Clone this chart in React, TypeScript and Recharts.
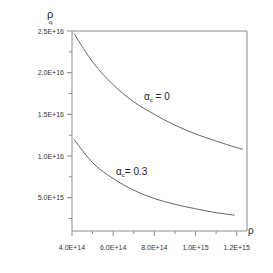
import React from 'react';
import { LineChart, Line, XAxis, YAxis, ReferenceLine } from 'recharts';

const rhoA0 = [4.1e14, 5e14, 6e14, 7e14, 8e14, 9e14, 1.0e15, 1.1e15, 1.2e15, 1.23e15];
const rhoqA0 = [2.47e16, 2.13e16, 1.855e16, 1.65e16, 1.5e16, 1.37e16, 1.265e16, 1.18e16, 1.1e16, 1.08e16];

const rhoA3 = [4.1e14, 5e14, 6e14, 7e14, 8e14, 9e14, 1.0e15, 1.1e15, 1.19e15];
const rhoqA3 = [1.2e16, 9.2e15, 7.3e15, 5.9e15, 4.9e15, 4.2e15, 3.67e15, 3.2e15, 2.9e15];

const xTicks = [4e14, 5e14, 6e14, 7e14, 8e14, 9e14, 1.0e15, 1.1e15, 1.2e15];
const xMajorLabels: Record<string, string> = {
  '400000000000000': '4.0E+14',
  '600000000000000': '6.0E+14',
  '800000000000000': '8.0E+14',
  '1000000000000000': '1.0E+15',
  '1200000000000000': '1.2E+15',
};
const yTicks = [2.5e15, 5e15, 7.5e15, 1e16, 1.25e16, 1.5e16, 1.75e16, 2e16, 2.25e16, 2.5e16];
const yMajorLabels: Record<string, string> = {
  '5000000000000000': '5.0E+15',
  '10000000000000000': '1.0E+16',
  '15000000000000000': '1.5E+16',
  '20000000000000000': '2.0E+16',
  '25000000000000000': '2.5E+16',
};

const dataA0 = rhoA0.map((x, i) => ({ x, y: rhoqA0[i] }));
const dataA3 = rhoA3.map((x, i) => ({ x, y: rhoqA3[i] }));

const FONT = 'Liberation Sans, Arial, sans-serif';
const AXIS = '#8a8a8a';

const XTick = (props: any) => {
  const { x, y, payload } = props;
  const key = String(Math.round(payload.value));
  const label = xMajorLabels[key];
  const major = !!label;
  return (
    <g>
      <line x1={x} x2={x} y1={y} y2={y + (major ? 5 : 3)} stroke={AXIS} strokeWidth={1} />
      {major && (
        <text x={x} y={y + 19} textAnchor="middle" fontSize={7} fontFamily={FONT} fill="#333">
          {label}
        </text>
      )}
    </g>
  );
};

const YTick = (props: any) => {
  const { x, y, payload } = props;
  const key = String(Math.round(payload.value));
  const label = yMajorLabels[key];
  const major = !!label;
  return (
    <g>
      <line x1={x} x2={x - (major ? 5 : 3)} y1={y} y2={y} stroke={AXIS} strokeWidth={1} />
      {major && (
        <text x={x - 8} y={y + 2.5} textAnchor="end" fontSize={7} fontFamily={FONT} fill="#333">
          {label}
        </text>
      )}
    </g>
  );
};

export default function App() {
  return (
    <div style={{ position: 'absolute', left: 0, top: 0, width: 273, height: 273, background: '#fff' }}>
      <LineChart
        width={273}
        height={273}
        margin={{ top: 31, right: 26, bottom: 0, left: 0 }}
      >
        <XAxis
          type="number"
          dataKey="x"
          domain={[4e14, 1.25e15]}
          ticks={xTicks}
          interval={0}
          tick={<XTick />}
          tickLine={false}
          tickSize={0}
          tickMargin={0}
          axisLine={{ stroke: AXIS }}
          height={42}
          allowDataOverflow
        />
        <YAxis
          type="number"
          dataKey="y"
          domain={[1e15, 2.5e16]}
          ticks={yTicks}
          interval={0}
          tick={<YTick />}
          tickLine={false}
          tickSize={0}
          tickMargin={0}
          axisLine={{ stroke: AXIS }}
          width={72}
          allowDataOverflow
        />
        <ReferenceLine y={2.5e16} stroke={AXIS} ifOverflow="visible" />
        <ReferenceLine x={1.25e15} stroke={AXIS} ifOverflow="visible" />
        <Line data={dataA0} dataKey="y" type="monotone" stroke="#666" strokeWidth={1} dot={false} isAnimationActive={false} />
        <Line data={dataA3} dataKey="y" type="monotone" stroke="#666" strokeWidth={1} dot={false} isAnimationActive={false} />
        <text x={47} y={18} fontSize={11} fontFamily={FONT} fill="#222">ρ</text>
        <text x={49} y={24} fontSize={6} fontFamily={FONT} fill="#222">q</text>
        <text x={248} y={234} fontSize={10} fontFamily={FONT} fill="#222">ρ</text>
        <text x={144} y={100} fontSize={10} fontFamily={FONT} fill="#222">
          α<tspan fontSize={6} dy={2}>c</tspan><tspan dy={-2}> = 0</tspan>
        </text>
        <text x={116} y={175} fontSize={10} fontFamily={FONT} fill="#222">
          α<tspan fontSize={6} dy={2}>c</tspan><tspan dy={-2}>= 0.3</tspan>
        </text>
      </LineChart>
    </div>
  );
}
